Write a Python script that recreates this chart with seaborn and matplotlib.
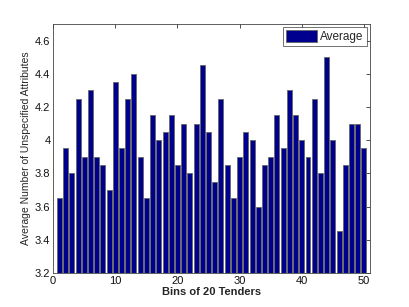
import matplotlib
matplotlib.use("Agg")
import matplotlib.pyplot as plt
import seaborn as sns
import pandas as pd
import numpy as np

bins = list(range(1, 51))
average = [3.65, 3.95, 3.80, 4.25, 3.90, 4.30, 3.90, 3.85, 3.70, 4.35,
           3.95, 4.25, 4.40, 3.90, 3.65, 4.15, 4.00, 4.05, 4.15, 3.85,
           4.10, 3.80, 4.10, 4.45, 4.05, 3.75, 4.25, 3.85, 3.65, 3.90,
           4.05, 4.00, 3.60, 3.85, 3.90, 4.15, 3.95, 4.30, 4.15, 4.00,
           3.90, 4.25, 3.80, 4.50, 4.00, 3.45, 3.85, 4.10, 4.10, 3.95]
xticks = [0, 10, 20, 30, 40, 50]
yticks = [3.2, 3.4, 3.6, 3.8, 4.0, 4.2, 4.4, 4.6]

sns.set_style("white")
plt.rcParams['font.family'] = ['Liberation Sans', 'DejaVu Sans']

fig = plt.figure(figsize=(4.09, 3.07), dpi=100)
ax = fig.add_axes([0.13, 0.111, 0.775, 0.811])

df = pd.DataFrame({"bin": bins, "avg": average})
ax.bar(df["bin"], df["avg"], width=0.8, bottom=0, color="#00008F",
       edgecolor="#666666", linewidth=0.6, label="Average")

ax.set_xlim(0, 51)
ax.set_ylim(3.2, 4.7)
ax.set_xticks(xticks)
ax.set_yticks(yticks)
ax.set_yticklabels(["3.2", "3.4", "3.6", "3.8", "4", "4.2", "4.4", "4.6"])
ax.tick_params(direction="in", length=3, labelsize=8, top=True, right=True,
               width=0.6, colors="#333333", labelcolor="#111111", pad=2)
for s in ax.spines.values():
    s.set_visible(True)
    s.set_linewidth(0.6)
    s.set_color("#444444")

ax.set_xlabel("Bins of 20 Tenders", fontsize=8, fontweight="bold", labelpad=1)
ax.set_ylabel("Average Number of Unspecified Attributes", fontsize=7.5, labelpad=3)

leg = ax.legend(loc="upper right", fontsize=8.5, frameon=True, fancybox=False,
                borderpad=0.25, handlelength=2.6, handleheight=1.1,
                handletextpad=0.3, borderaxespad=0.3)
leg.get_frame().set_edgecolor("#333333")
leg.get_frame().set_linewidth(0.6)

fig.savefig("out.png", dpi=100)
